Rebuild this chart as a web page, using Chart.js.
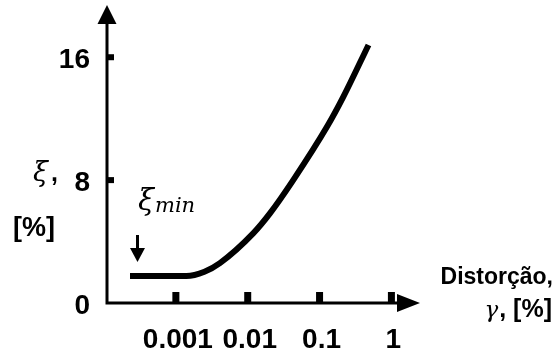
<!DOCTYPE html>
<html>
<head>
<meta charset="utf-8">
<script src="https://cdn.jsdelivr.net/npm/chart.js@4.4.1/dist/chart.umd.min.js"></script>
<style>
  html, body { margin: 0; padding: 0; background: #fff; }
  #wrap { width: 553px; height: 352px; }
</style>
</head>
<body>
<div id="wrap"><canvas id="chart"></canvas></div>
<script>
// damping ratio (%) against shear strain (%), log strain axis
const strain = [2.3e-4, 1.4e-3, 2.5e-3, 4.1e-3, 1.2e-2, 2.05e-2, 4.3e-2, 0.128, 0.213, 0.48];
const damping = [1.76, 1.76, 2.04, 2.6, 4.55, 5.85, 8.0, 11.5, 13.4, 16.8];
const xTicks = [0.001, 0.01, 0.1, 1];
const xTickLabels = ['0.001', '0.01', '0.1', '1'];
const yTicks = [0, 8, 16];
const yTickLabels = ['0', '8', '16'];

const SANS = '"Liberation Sans", Arial, sans-serif';
const SERIF = '"DejaVu Serif", serif';

// axis lines with arrow heads, inward tick marks and the free text
const axesArrows = {
  id: 'axesArrows',
  afterDraw(chart) {
    const { ctx, chartArea: a, scales: { x, y } } = chart;
    const x0 = a.left;
    const y0 = y.getPixelForValue(0);
    ctx.save();
    ctx.fillStyle = '#000';
    ctx.strokeStyle = '#000';
    ctx.lineWidth = 3;

    ctx.beginPath();
    ctx.moveTo(x0, y0 + 1.5);
    ctx.lineTo(x0, a.top + 17);
    ctx.moveTo(x0 - 1.5, y0);
    ctx.lineTo(a.right - 20, y0);
    ctx.stroke();

    ctx.beginPath();
    ctx.moveTo(x0, a.top);
    ctx.lineTo(x0 - 9.5, a.top + 19);
    ctx.lineTo(x0 + 9.5, a.top + 19);
    ctx.closePath();
    ctx.moveTo(a.right, y0);
    ctx.lineTo(a.right - 23, y0 - 9);
    ctx.lineTo(a.right - 23, y0 + 9);
    ctx.closePath();
    ctx.fill();

    xTicks.forEach(v => {
      const px = x.getPixelForValue(v);
      ctx.fillRect(px - 3.5, y0 - 11, 7, 11);
    });
    yTicks.filter(v => v > 0).forEach(v => {
      const py = y.getPixelForValue(v);
      ctx.fillRect(x0, py - 3, 7, 6);
    });

    // y title: "ξ," over "[%]"
    ctx.textBaseline = 'alphabetic';
    ctx.textAlign = 'left';
    ctx.font = 'italic 27px ' + SERIF;
    ctx.fillText('ξ', 33, 181);
    ctx.font = 'bold 25px ' + SANS;
    ctx.fillText(',', 51, 181);
    ctx.font = 'bold 27px ' + SANS;
    ctx.fillText('[%]', 13, 236);

    // x title: "Distorção," over "γ, [%]"
    ctx.textAlign = 'right';
    ctx.font = 'bold 23px ' + SANS;
    ctx.fillText('Distorção,', 553, 284);
    ctx.font = 'bold 25px ' + SANS;
    ctx.fillText(', [%]', 552, 317);
    const wTail = ctx.measureText(', [%]').width;
    ctx.font = 'italic 23px ' + SERIF;
    ctx.fillText('γ', 552 - wTail - 1, 317);

    // ξ_min marker with its arrow
    ctx.textAlign = 'left';
    ctx.font = 'italic 29px ' + SERIF;
    ctx.fillText('ξ', 138, 210);
    const wXi = ctx.measureText('ξ').width;
    ctx.font = 'italic 21px ' + SERIF;
    ctx.fillText('min', 138 + wXi + 1, 212);

    ctx.beginPath();
    ctx.moveTo(137.5, 235);
    ctx.lineTo(137.5, 250);
    ctx.stroke();
    ctx.beginPath();
    ctx.moveTo(130, 248);
    ctx.lineTo(145, 248);
    ctx.lineTo(137.5, 262);
    ctx.closePath();
    ctx.fill();
    ctx.restore();
  }
};

const points = strain.map((g, i) => ({ x: g, y: damping[i] }));

new Chart(document.getElementById('chart'), {
  type: 'line',
  data: {
    datasets: [{
      data: points,
      borderColor: '#000',
      borderWidth: 6,
      pointRadius: 0,
      cubicInterpolationMode: 'monotone',
      fill: false,
    }]
  },
  options: {
    responsive: true,
    maintainAspectRatio: false,
    animation: false,
    events: [],
    layout: { padding: { top: 5, right: 133, left: 0, bottom: 0 } },
    plugins: { legend: { display: false }, tooltip: { enabled: false } },
    scales: {
      x: {
        type: 'logarithmic',
        min: 1.1e-4,
        max: 2.5,
        grid: { display: false },
        border: { display: false },
        afterBuildTicks: s => { s.ticks = xTicks.map(v => ({ value: v })); },
        afterFit: s => { s.height = 49; s.paddingLeft = 0; s.paddingRight = 0; },
        ticks: {
          autoSkip: false,
          maxRotation: 0,
          padding: 12,
          labelOffset: 2,
          color: '#000',
          font: { family: SANS, size: 28, weight: 'bold' },
          callback: (v) => xTickLabels[xTicks.indexOf(v)],
        }
      },
      y: {
        type: 'linear',
        min: 0,
        max: 19.4,
        grid: { display: false },
        border: { display: false },
        afterBuildTicks: s => { s.ticks = yTicks.map(v => ({ value: v })); },
        afterFit: s => { s.width = 107; s.paddingTop = 0; s.paddingBottom = 0; },
        ticks: {
          padding: 9,
          labelOffset: 3,
          color: '#000',
          font: { family: SANS, size: 28, weight: 'bold' },
          callback: (v) => yTickLabels[yTicks.indexOf(v)],
        }
      }
    }
  },
  plugins: [axesArrows]
});
</script>
</body>
</html>
